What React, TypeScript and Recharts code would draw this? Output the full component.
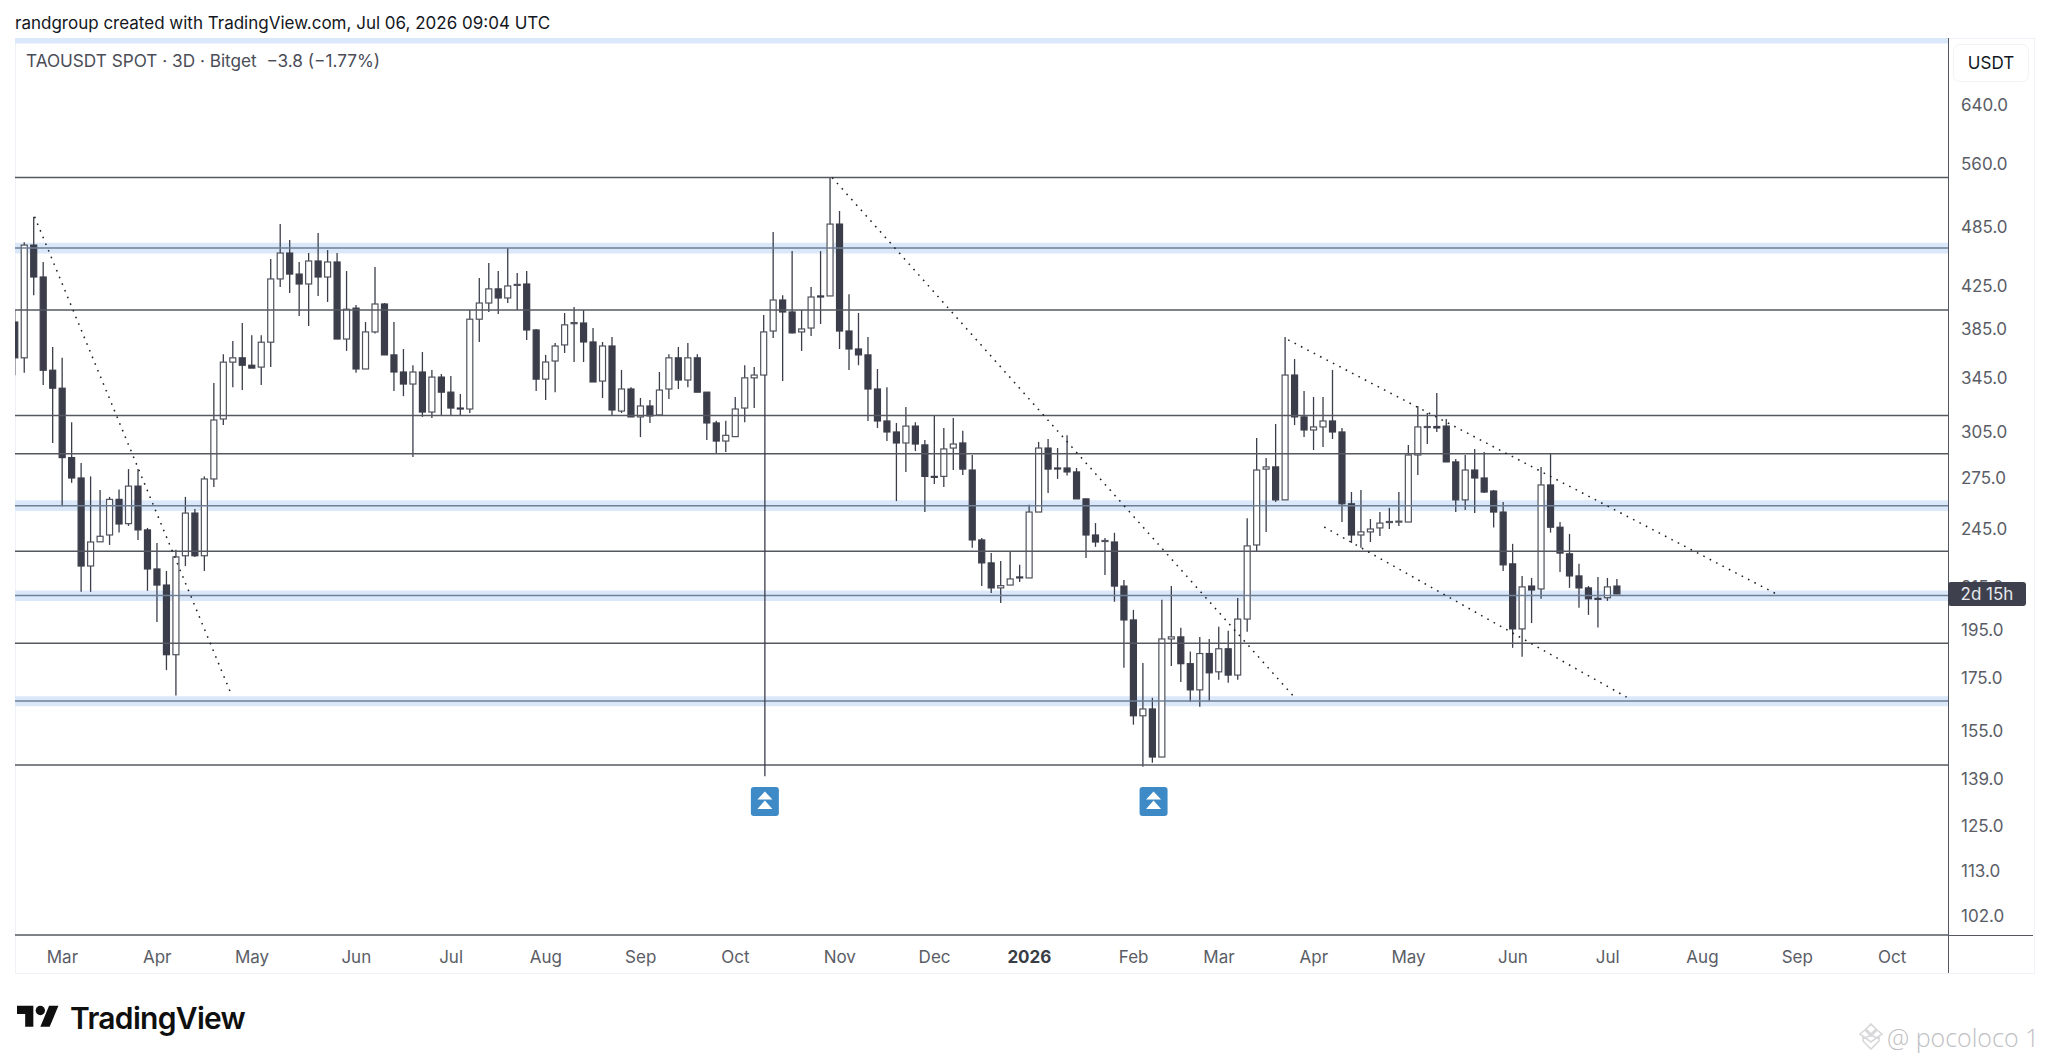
import React from 'react';
import {
  ComposedChart, Bar, XAxis, YAxis, ReferenceLine, ReferenceArea, ReferenceDot,
} from 'recharts';

const opens = [391.5,361,466,433.5,351,337,288,275,225.3,238,241.7,262,248,270,244.5,223.8,215.8,184.3,230.6,254,230.6,274.4,314.3,357.5,361,355,353.5,374,431.6,457.7,436.4,426.7,449.5,433.5,448.5,376.7,404,352,382.8,407.8,363.4,349.6,340.2,349.6,319.3,345.6,334,322.2,321.5,394,408.7,422,413.4,425.5,426.7,384.5,344,358.4,371.7,390,390.6,374.2,342.5,370.8,320,336.4,315.8,323.7,317.2,336.4,361,343.3,361,334,311.5,299,302,322.2,345,347.2,383.6,411.5,400.5,382.8,386.2,415.3,415.3,488.7,383.6,368.3,363.4,336.4,312.9,305.2,297.7,309.3,296.4,276,276,294.3,297.7,280,239,226.9,214.4,215.8,219.8,219.3,254.6,294.3,281.3,281.3,278.8,262.3,241.7,238.2,237.9,215.3,199.4,160.5,163,146.2,191,191.9,180.6,170.2,184.8,177.3,186.8,176,199.8,236.3,280.6,282,261.7,347.2,315.8,306.6,308.7,312.9,305.2,259.4,241.7,243.4,245.6,248.6,248.9,248.9,289.7,308.4,309,309.3,285.2,261.7,280,275,267,254.6,226.4,195.4,215.3,213.9,270.7,246,231.6,220.3,214.4,209.4,209.7,215.3];
const closes = [361,466,433.5,351,337,288,275,225.3,237.9,241,262,247.8,270,244.5,223.8,215.8,184.3,230,254,230.6,274.4,313.6,357.5,361,355,352.7,374,431.6,457.7,436.4,426.7,449.5,433.5,448.5,376.7,403,352,382.8,407.8,363.4,349.6,340.2,349.6,319.3,345.6,334,322.2,321.9,394,408.7,422,413.4,424.8,426.3,384.5,344,357.6,370.8,389,391,374.2,341.8,370.8,320.8,336.4,315.8,323.7,316.5,335.6,361,343.3,361,334,311.5,299,302.9,321.5,345,347.2,382.8,411.5,400.5,382,385.4,414.3,414.3,488.7,383.6,368.3,363.4,336.4,312.9,305.2,297.7,309.3,297,276,275.5,293.7,297,280.6,239,226.9,214.4,215.5,218.8,219.5,254.6,294.3,280.6,281,278.8,262.3,241.7,237.9,238.7,215.3,199.4,160.5,163,146.2,191,191.9,180.6,170.2,184.8,176.9,186.8,176,199.8,235.8,280,282,261.7,347.2,315.8,306.6,308.7,312.9,305.2,259.4,241.7,243.4,245,248.3,249.2,249.4,289.7,308.7,309,308,285.2,261.7,280,275,266.4,254.6,225.9,195.4,214.9,213.4,270.7,246,232,220.3,214.4,209.2,209,214.9,211.5];
const highs = [402,469,497,448.5,370,361,312,284.5,276,267.6,263.5,268,280.6,280.6,245.6,237.4,222.8,233.7,263.5,256.4,276,341,364,375,390.6,380,380,451.5,488.7,471.3,448.5,457.7,479,460.8,457.7,439.4,406.9,391.5,443.4,408.7,391.5,368.3,355,365.8,351.2,348,346.4,332.6,402.3,432.6,447.5,439.4,463,437.4,439.4,385.4,363.4,373.4,399.6,405,402.3,386.2,374.2,378.5,351.2,337.8,329.6,328.1,349.6,364,370,373.4,364,334,313,313,330.4,355,353.5,397.8,480,416,459.7,402.3,423.8,459.7,543,503.4,417,399.6,378.5,352,337.8,311.5,323,312,299.7,316.5,308,315,306,289.7,240,232,227.9,232.6,225.9,258.8,298.4,300.4,294.3,302.9,281.3,262.3,248.3,240,242.9,218.3,204,180.9,167.2,208.7,215.3,195.9,185.6,191.9,191,196.3,194.6,209.6,251.1,301,287.8,310.8,378.5,360,334.8,330.4,330.4,351.2,308,266.4,267.6,250.6,254.6,257,266.4,296.3,323.7,318.6,333.3,314.3,287.1,289.7,293.7,291.7,267.6,260.5,236.9,220.3,219.3,281.9,291,248.9,242.3,226.4,215.3,219.8,219.3,218.8];
const lows = [347,349,416,339.5,297.7,258,272,212.5,212.5,238,236.3,243,246.7,239,213,198.5,178,168,225.3,230,222.8,269.5,310,337.8,335.6,352.7,339.5,353.5,423.8,418,396.9,388,415.3,409.7,376.7,366.7,349,352,381.4,363.4,334.8,331,288.4,315.8,315,317.2,316.5,316.5,318.6,374.2,400.5,398.7,408.7,402.3,375.9,334.8,328.1,334,365,357.6,357.6,341.8,329.6,317.2,318.6,315.8,301.7,311.5,317.2,328.8,336.4,337.8,334,299.7,291,291.7,302,312,322.2,347.2,377.6,342.5,381.4,366.7,379.3,389.7,415.3,368.3,351.2,355,312.9,308,299,261,278.8,292.3,254.6,271.3,269.5,280,276.9,234.8,215.3,212,207.2,215.8,217.3,219.3,254.6,265.8,274.4,276.5,262.3,229.4,235.3,220.8,207.8,178.9,157.3,143,144.3,146.2,179.7,173.3,165.7,163.8,166,174.1,173,174.1,194.1,232.6,243.4,260.5,261.7,310,301.7,293,295,300.4,248.9,237.4,234.8,237.9,241.2,245,246.7,248.9,276.9,297,305.2,285.2,254.6,255.8,254,265.8,245.9,222.8,187.2,183.5,198,209.2,243,222.3,214.4,205,201.7,196,208.2,211.5];

const priceTicks = [640,560,485,425,385,345,305,275,245,215,195,175,155,139,125,113,102];
const levelLines = [543,402.3,316.8,290.6,233,189.2,143.6];
const zones = [
  { mid: 463, lo: 457.3, hi: 468.4 },
  { mid: 258.3, lo: 255.2, hi: 261.5 },
  { mid: 210.7, lo: 208.2, hi: 213.2 },
  { mid: 166, lo: 164, hi: 167.8 },
];
const trendLines = [
  [{ x: 2.07, y: 496.8 }, { x: 22.87, y: 168 }],
  [{ x: 86.2, y: 543 }, { x: 135, y: 167.2 }],
  [{ x: 134.3, y: 376 }, { x: 186, y: 211 }],
  [{ x: 138.1, y: 246.1 }, { x: 170, y: 167.4 }],
];
const monthTicks = [5,15,25,36,46,56,66,76,87,97,107,118,127,137,147,158,168,178,188,198];
const monthNames = ['Mar','Apr','May','Jun','Jul','Aug','Sep','Oct','Nov','Dec','2026','Feb','Mar','Apr','May','Jun','Jul','Aug','Sep','Oct'];
const markerCandles = [79.1, 120.1];
const markerPrice = 132.2;
const verticalMark = [{ x: 79.1, y: 347.2 }, { x: 79.1, y: 140 }];

const candles = opens.map((o, i) => ({
  i, open: o, close: closes[i], high: highs[i], low: lows[i], range: [lows[i], highs[i]],
}));

const FONT = 'Inter, sans-serif';
const DARK = '#3b3e4a';
const LINE = '#555861';

function Candle(props: any) {
  const { x, y, width, height, payload } = props;
  const { open, close, high, low } = payload;
  const cx = x + width / 2;
  const span = Math.log(high) - Math.log(low) || 1;
  const toY = (p: number) => y + (height * (Math.log(high) - Math.log(p))) / span;
  const top = toY(Math.max(open, close));
  const bottom = toY(Math.min(open, close));
  const up = close >= open;
  return (
    <g>
      <line x1={cx} x2={cx} y1={y} y2={y + height} stroke={DARK} strokeWidth={1.3} />
      <rect
        x={x + 0.5}
        y={top}
        width={width - 1}
        height={Math.max(bottom - top, 1)}
        fill={up ? '#ffffff' : DARK}
        stroke={up ? '#50535d' : DARK}
        strokeWidth={1.2}
      />
    </g>
  );
}

function MonthTick(props: any) {
  const { x, y, payload } = props;
  const k = monthTicks.indexOf(payload.value);
  const name = monthNames[k];
  return (
    <text x={x} y={y + 26} textAnchor="middle" fontFamily={FONT} fontSize={17}
      fontWeight={name === '2026' ? 700 : 400} fill={name === '2026' ? '#3a3d45' : '#5a5d66'}>
      {name}
    </text>
  );
}

function Marker(props: any) {
  const { cx, cy } = props;
  return (
    <g>
      <rect x={cx - 14} y={cy - 14.5} width={28} height={29} rx={3} fill="#3d8ac7" />
      <path d={`M${cx} ${cy - 10}l7.5 8h-15z M${cx} ${cy - 1}l7.5 8.5h-15z`} fill="#fff" />
    </g>
  );
}

const abs = (s: React.CSSProperties): React.CSSProperties => ({ position: 'absolute', ...s });

export default function App() {
  return (
    <div style={abs({ left: 0, top: 0, width: 2048, height: 1061, background: '#fff', overflow: 'hidden' })}>
      <div style={abs({ left: 15, top: 38, width: 2018, height: 934, border: '1px solid #f0f2f7', boxSizing: 'content-box' })} />
      <div style={abs({ left: 1947.5, top: 38, width: 1.5, height: 935, background: LINE })} />
      <div style={abs({ left: 1948, top: 934.5, width: 85, height: 1.5, background: LINE })} />
      <div style={abs({ left: 1953, top: 44, width: 74, height: 36, border: '1px solid #f2f3f7', borderRadius: 7, textAlign: 'center', lineHeight: '36px', fontFamily: FONT, fontSize: 17, color: '#131722' })}>USDT</div>

      <div style={abs({ left: 0, top: 0 })}>
        <ComposedChart width={2048} height={1061} data={candles}
          margin={{ top: 38, right: 0, bottom: 88, left: 15 }}>
          <XAxis dataKey="i" type="number" domain={[0, 203.9]} ticks={monthTicks} interval={0}
            allowDataOverflow height={38} tickLine={false} tickSize={0}
            axisLine={{ stroke: LINE, strokeWidth: 1.5 }} tick={<MonthTick />} />
          <YAxis orientation="right" scale="log" domain={[97.7, 744.8]} allowDataOverflow
            ticks={priceTicks} interval={0} width={100} tickLine={false} axisLine={false}
            tickFormatter={(v: number) => v.toFixed(1)} tickMargin={7}
            tick={{ fontFamily: FONT, fontSize: 17, fill: '#5a5d66', textAnchor: 'start' }} />
          <ReferenceArea y1={735.6} y2={744.8} fill="#dbe8f9" fillOpacity={1} stroke="none" ifOverflow="visible" />
          {zones.map((z) => (
            <ReferenceArea key={z.mid} y1={z.lo} y2={z.hi} fill="#dbe8f9" fillOpacity={1} stroke="none" />
          ))}
          {zones.map((z) => (
            <ReferenceLine key={z.mid} y={z.mid} stroke="#6d7f96" strokeWidth={1.5} />
          ))}
          {levelLines.map((v) => (
            <ReferenceLine key={v} y={v} stroke={LINE} strokeWidth={1.5} />
          ))}
          <Bar dataKey="range" barSize={7} isAnimationActive={false} shape={(p: any) => <Candle {...p} />} />
          <ReferenceLine segment={verticalMark} stroke={DARK} strokeWidth={1.3} ifOverflow="visible" />
          {trendLines.map((seg, k) => (
            <ReferenceLine key={k} segment={seg} stroke="#1c1e24" strokeWidth={1.5}
              strokeDasharray="1.6 5.6" ifOverflow="visible" />
          ))}
          {markerCandles.map((c) => (
            <ReferenceDot key={c} x={c} y={markerPrice} ifOverflow="visible" shape={(p: any) => <Marker {...p} />} />
          ))}
        </ComposedChart>
      </div>

      <div style={abs({ left: 1948, top: 582, width: 78, height: 24, borderRadius: 3, background: '#3e414d', color: '#e6e8ed', textAlign: 'center', lineHeight: '24px', fontFamily: FONT, fontSize: 17 })}>2d 15h</div>

      <div style={abs({ left: 15, top: 13, fontFamily: FONT, fontSize: 17, color: '#131722', whiteSpace: 'nowrap', lineHeight: '20px' })}>
        randgroup created with TradingView.com, Jul 06, 2026 09:04 UTC
      </div>
      <div style={abs({ left: 26, top: 51, fontFamily: FONT, fontSize: 17.2, color: '#4a4d57', whiteSpace: 'pre', lineHeight: '20px' })}>
        TAOUSDT SPOT · 3D · Bitget  −3.8 (−1.77%)
      </div>

      <svg style={abs({ left: 17, top: 1001 })} width={42} height={33} viewBox="0 0 36 28">
        <path d="M14 22H7V11H0V4h14v18zM28 22h-8l7.5-18h8L28 22z" fill="#0f0f0f" />
        <circle cx={20} cy={8} r={4} fill="#0f0f0f" />
      </svg>
      <div style={abs({ left: 70, top: 999, fontFamily: FONT, fontSize: 30, fontWeight: 600, letterSpacing: -0.7, color: '#0f0f0f', lineHeight: '38px' })}>TradingView</div>

      <svg style={abs({ left: 1856, top: 1021 })} width={30} height={32} viewBox="0 0 30 32">
        <path d="M15 3l5 5-5 5-5-5zM4 13l5-4 6 6 6-6 5 4-5 4-6-3-6 3zM15 21l-8-6v5l8 8 8-8v-5z" fill="none" stroke="#d8d8da" strokeWidth={1.6} />
      </svg>
      <div style={abs({ left: 1887, top: 1019, fontFamily: 'Open Sans, sans-serif', fontWeight: 300, fontSize: 25, color: '#bfc0c3', whiteSpace: 'pre', lineHeight: '36px' })}>@ pocoloco 1</div>
    </div>
  );
}
